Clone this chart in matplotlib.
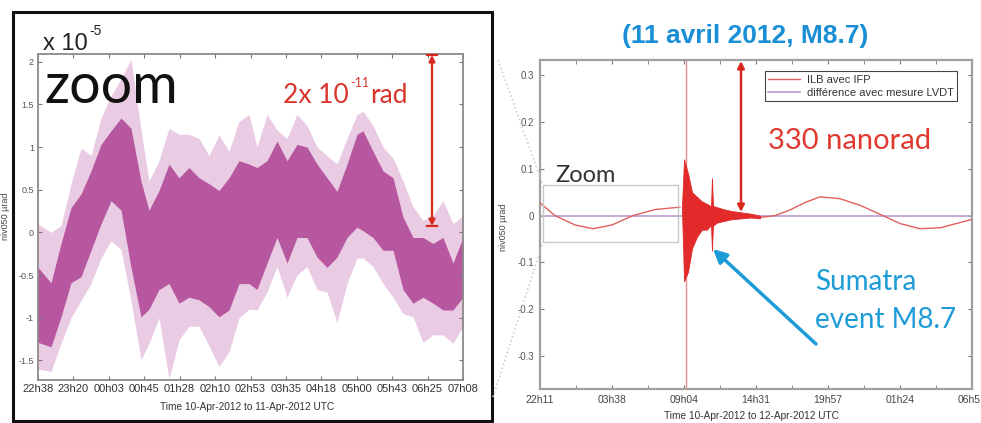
import matplotlib
matplotlib.use("Agg")
import matplotlib.pyplot as plt
from matplotlib.patches import Rectangle
from matplotlib.lines import Line2D
import numpy as np

# ---------------- data: left panel (zoom, units of 1e-5 rad) ----------------
left_tick_labels = ["22h38", "23h20", "00h03", "00h45", "01h28", "02h10", "02h53",
                    "03h35", "04h18", "05h00", "05h43", "06h25", "07h08"]
left_hours = [0.00, 0.26, 0.46, 0.66, 0.86, 1.06, 1.26, 1.46, 1.66, 1.86, 2.06,
              2.22, 2.42, 2.62, 2.82, 3.02, 3.22, 3.42, 3.62, 3.82, 4.02, 4.22,
              4.38, 4.58, 4.78, 4.98, 5.18, 5.38, 5.58, 5.78, 5.98, 6.18, 6.38,
              6.50, 6.70, 6.90, 7.10, 7.30, 7.50, 7.70, 7.90, 8.10, 8.30, 8.50]
core_hi = [-0.41, -0.59, -0.13, 0.29, 0.45, 0.72, 1.03, 1.19, 1.34, 1.22, 0.60,
           0.26, 0.49, 0.80, 0.64, 0.76, 0.64, 0.57, 0.49, 0.64, 0.84, 0.80,
           0.76, 0.84, 1.07, 0.84, 1.03, 1.00, 0.80, 0.64, 0.48, 0.80, 1.15,
           1.19, 0.95, 0.72, 0.64, 0.18, -0.06, -0.06, -0.13, -0.06, -0.36, -0.06]
core_lo = [-1.29, -1.34, -0.99, -0.59, -0.52, -0.21, 0.10, 0.37, 0.26, -0.41, -0.99,
           -0.90, -0.67, -0.60, -0.83, -0.76, -0.79, -0.87, -0.99, -0.91, -0.60, -0.60,
           -0.67, -0.36, -0.06, -0.36, -0.06, -0.06, -0.29, -0.41, -0.29, -0.06, 0.06,
           0.02, -0.06, -0.21, -0.21, -0.67, -0.83, -0.76, -0.83, -0.91, -0.91, -0.76]
light_hi = [0.10, 0.00, 0.08, 0.57, 0.99, 0.90, 1.34, 1.60, 1.80, 2.03, 1.20,
            0.60, 0.84, 1.22, 1.15, 1.15, 1.10, 0.90, 1.14, 0.95, 1.30, 1.38,
            1.00, 1.38, 1.20, 1.10, 1.38, 1.25, 1.00, 0.90, 0.80, 1.10, 1.38,
            1.42, 1.25, 1.00, 0.87, 0.60, 0.30, 0.14, 0.20, 0.37, 0.10, 0.20]
light_lo = [-1.60, -1.63, -1.30, -1.00, -0.80, -0.60, -0.30, -0.10, -0.20, -0.80, -1.49,
            -1.30, -1.00, -1.72, -1.26, -1.10, -1.10, -1.33, -1.57, -1.40, -1.00, -0.90,
            -0.91, -0.70, -0.40, -0.76, -0.50, -0.40, -0.67, -0.70, -1.06, -0.60, -0.30,
            -0.30, -0.40, -0.60, -0.76, -0.95, -0.99, -1.29, -1.20, -1.20, -1.30, -1.10]
left_yticks = [-1.5, -1.0, -0.5, 0.0, 0.5, 1.0, 1.5, 2.0]
left_ytick_labels = ["-1.5", "-1", "-0.5", "0", "0.5", "1", "1.5", "2"]

# ---------------- data: right panel (µrad) ----------------
right_tick_labels = ["22h11", "03h38", "09h04", "14h31", "19h57", "01h24", "06h51"]
tide_before_h = [0.00, 1.13, 2.65, 4.01, 5.44, 7.03, 8.69, 10.58]
tide_before_v = [0.027, 0.000, -0.020, -0.028, -0.020, 0.000, 0.013, 0.018]
tide_after_h = [16.63, 17.77, 18.90, 20.04, 21.17, 22.68, 24.19, 25.93, 27.22, 28.73, 30.24, 31.75, 32.66]
tide_after_v = [-0.004, 0.000, 0.012, 0.028, 0.040, 0.036, 0.022, 0.000, -0.017, -0.028, -0.026, -0.015, -0.008]
burst_h = [10.73, 10.89, 11.19, 11.49, 11.87, 12.25, 12.62, 12.93, 13.00, 13.08, 13.15, 13.38, 13.83, 14.44, 15.19, 15.95, 16.63]
burst_hi = [0.018, 0.120, 0.090, 0.050, 0.040, 0.030, 0.025, 0.020, 0.080, 0.020, 0.020, 0.018, 0.014, 0.010, 0.007, 0.004, 0.000]
burst_lo = [0.018, -0.140, -0.120, -0.070, -0.045, -0.030, -0.030, -0.020, -0.075, -0.020, -0.020, -0.015, -0.012, -0.008, -0.006, -0.004, -0.006]
event_h = 11.04
event_min, event_max = -0.5, 0.5
diff_h = [0.0, 32.66]
diff_v = [0.0, 0.0]
right_yticks = [-0.3, -0.2, -0.1, 0.0, 0.1, 0.2, 0.3]
right_ytick_labels = ["-0.3", "-0.2", "-0.1", "0", "0.1", "0.2", "0.3"]

W, H = 981, 423
fig = plt.figure(figsize=(W / 100, H / 100), dpi=100)
fig.patch.set_facecolor("white")


def fx(px):
    return px / W


def fy(py):
    return 1 - py / H


def rect(x0, y0, x1, y1):
    return [fx(x0), fy(y1), fx(x1) - fx(x0), fy(y0) - fy(y1)]


tick_font = ["Liberation Sans", "DejaVu Sans"]
soft_font = ["Lato", "DejaVu Sans"]

# ---------------- left panel ----------------
axL = fig.add_axes(rect(38, 54, 463, 380))
axL.fill_between(left_hours, light_lo, light_hi, color="#e9cbe3", lw=0)
axL.fill_between(left_hours, core_lo, core_hi, color="#b6579f", lw=0)
axL.set_xlim(0, 8.5)
axL.set_ylim(-1.73, 2.09)
axL.set_xticks(np.linspace(0, 8.5, 13))
axL.set_xticklabels(left_tick_labels, fontsize=8, color="#333333", family=tick_font)
axL.set_yticks(left_yticks)
axL.set_yticklabels(left_ytick_labels, fontsize=6.5, color="#555555", family=tick_font)
axL.tick_params(direction="in", length=3, color="#777777", top=True, right=True, pad=3)
for s in axL.spines.values():
    s.set_color("#8a8a8a")
    s.set_linewidth(1.3)

# ---------------- right panel ----------------
axR = fig.add_axes(rect(540, 60, 972, 389))
axR.plot(diff_h, diff_v, color="#b99ccf", lw=1.2, zorder=2)
axR.plot(tide_before_h, tide_before_v, color="#e06060", lw=1.0, zorder=3)
axR.plot(tide_after_h, tide_after_v, color="#e06060", lw=1.0, zorder=3)
axR.fill_between(burst_h, burst_lo, burst_hi, color="#e22a2a", lw=0.6, edgecolor="#e22a2a", zorder=3)
axR.vlines([event_h], [event_min], [event_max], color="#eb8d8d", lw=1.0, zorder=2)
axR.set_xlim(0, 32.66)
axR.set_ylim(-0.37, 0.332)
axR.set_xticks(np.linspace(0, 32.66, 7))
axR.set_xticks(np.linspace(0, 32.66, 13), minor=True)
axR.set_xticklabels(right_tick_labels, fontsize=7.5, color="#444444", family=tick_font)
axR.set_yticks(right_yticks)
axR.set_yticklabels(right_ytick_labels, fontsize=7, color="#555555", family=tick_font)
axR.tick_params(which="both", direction="in", length=3, color="#777777", top=True, right=True, pad=4)
for s in axR.spines.values():
    s.set_color("#a0a0a0")
    s.set_linewidth(1.6)
handles = [Line2D([], [], color="#e06060", lw=1.0), Line2D([], [], color="#b99ccf", lw=1.2)]
leg = axR.legend(handles, ["ILB avec IFP", "différence avec mesure LVDT"],
                 loc="upper right", bbox_to_anchor=(0.979, 0.982),
                 frameon=True, fancybox=False, framealpha=1, borderpad=0.3,
                 handlelength=2.9, handletextpad=0.6, labelspacing=0.25,
                 prop={"family": tick_font, "size": 8})
leg.get_frame().set_edgecolor("#444444")
leg.get_frame().set_linewidth(0.8)
for t in leg.get_texts():
    t.set_color("#333333")

# ---------------- overlays (figure pixel coordinates) ----------------
ov = fig.add_axes([0, 0, 1, 1], facecolor="none")
ov.set_xlim(0, W)
ov.set_ylim(H, 0)
ov.axis("off")

# left outer black frame
ov.add_patch(Rectangle((13, 12), 479, 409, fill=False, ec="#111111", lw=2.2))
# zoom box on right chart and connectors
ov.add_patch(Rectangle((543, 185), 135, 57, fill=False, ec="#c8c8c8", lw=1.0))
ov.plot([498, 543], [60, 185], color="#cfcfcf", lw=1.2, ls=(0, (1, 1.5)))
ov.plot([493, 543], [397, 242], color="#cfcfcf", lw=1.2, ls=(0, (1, 1.5)))

# texts left
ov.text(43, 50, "x 10", fontsize=17, color="#222222", family=tick_font, va="baseline")
ov.text(89, 35, "-5", fontsize=10, color="#222222", family=tick_font, va="baseline")
ov.text(44, 103, "zoom", fontsize=40, color="#111111", family=soft_font, va="baseline")
red = "#d8352c"
ov.text(283, 103, "2x 10", fontsize=19, color=red, family=soft_font, va="baseline")
ov.text(350, 87, "-11", fontsize=9, color=red, family=soft_font, va="baseline")
ov.text(370, 103, "rad", fontsize=19, color=red, family=soft_font, va="baseline")
ov.annotate("", xy=(432, 55), xytext=(432, 226),
            arrowprops=dict(arrowstyle="<|-|>", color="#d8281e", lw=1.6, mutation_scale=9, shrinkA=0, shrinkB=0))
ov.plot([427, 437], [55, 55], color="#d8281e", lw=1.6)
ov.plot([427, 437], [226, 226], color="#d8281e", lw=1.6)
ov.text(247, 407, "Time 10-Apr-2012 to 11-Apr-2012 UTC", fontsize=7.3, color="#333333",
        family=tick_font, ha="center", va="center")
ov.text(6, 216, "niv050 µrad", fontsize=6.5, color="#444444", family=tick_font,
        rotation=90, ha="center", va="center")

# texts right
ov.text(745, 43, "(11 avril 2012, M8.7)", fontsize=19, color="#1a8fd5", family=tick_font,
        fontweight="bold", ha="center", va="baseline")
ov.annotate("", xy=(741, 61), xytext=(741, 212),
            arrowprops=dict(arrowstyle="<|-|>", color="#d8281e", lw=1.8, mutation_scale=10, shrinkA=0, shrinkB=0))
ov.text(768, 149, "330 nanorad", fontsize=21, color="#e0392f", family=soft_font, va="baseline")
ov.text(555, 182, "Zoom", fontsize=17, color="#333333", family=soft_font, va="baseline")
ov.text(815, 290, "Sumatra", fontsize=20, color="#1d9bd7", family=soft_font, va="baseline")
ov.text(815, 328, "event M8.7", fontsize=20, color="#1d9bd7", family=soft_font, va="baseline")
ov.annotate("", xy=(713, 249), xytext=(816, 344),
            arrowprops=dict(arrowstyle="-|>", color="#1d9bd7", lw=2.5, mutation_scale=20, shrinkA=0, shrinkB=0))
ov.text(751, 416, "Time 10-Apr-2012 to 12-Apr-2012 UTC", fontsize=7.3, color="#333333",
        family=tick_font, ha="center", va="center")
ov.text(503, 227, "niv050 µrad", fontsize=6.5, color="#444444", family=tick_font,
        rotation=90, ha="center", va="center")

fig.savefig("out.png", dpi=100, facecolor="white")
